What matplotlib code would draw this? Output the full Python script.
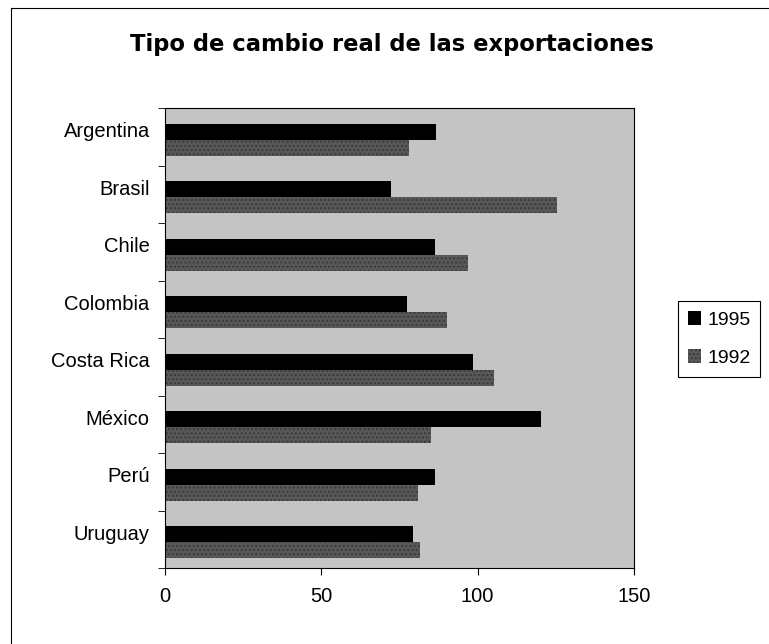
import matplotlib
matplotlib.use("Agg")
import matplotlib.pyplot as plt
from matplotlib.lines import Line2D
from matplotlib.transforms import ScaledTranslation
import numpy as np

plt.rcParams['font.family'] = ['Liberation Sans', 'DejaVu Sans']

# data
paises = ["Argentina", "Brasil", "Chile", "Colombia", "Costa Rica", "México", "Perú", "Uruguay"]
v1995 = [86.7, 72.2, 86.3, 77.3, 98.4, 120.4, 86.3, 79.4]
v1992 = [77.9, 125.3, 97.0, 90.1, 105.3, 85.1, 81.0, 81.7]
xticks = [0, 50, 100, 150]

fig = plt.figure(figsize=(7.69, 6.44), dpi=100)
ax = fig.add_axes([165/769, 1 - 568/644, 469/769, 460/644])

y = np.arange(len(paises))
h = 0.28
off = 0.05  # bar pair sits a little below the slot centre
ax.barh(y + off - h/2, v1995, height=h, color="black", label="1995")
ax.barh(y + off + h/2, v1992, height=h, color="#585858", hatch="....", edgecolor="#3a3a3a",
        linewidth=0, label="1992")

ax.set_facecolor("#c4c4c4")
ax.set_xlim(0, 150)
ax.set_ylim(len(paises) - 0.5, -0.5)
ax.set_xticks(xticks)
ax.set_xticklabels([str(t) for t in xticks], fontsize=14.5)
ax.set_yticks(y)
ax.set_yticklabels(paises, fontsize=14.5)
ax.tick_params(axis="y", length=0, pad=11)
ax.set_yticks(np.arange(len(paises) + 1) - 0.5, minor=True)
ax.tick_params(axis="y", which="minor", length=5, direction="out")
ax.tick_params(axis="x", length=5, direction="out", pad=9)
for lab in ax.get_yticklabels():
    lab.set_transform(lab.get_transform() + ScaledTranslation(0, 5/72, fig.dpi_scale_trans))
for s in ax.spines.values():
    s.set_linewidth(0.8)

fig.text(392/769, 1 - 44/644, "Tipo de cambio real de las exportaciones",
         ha="center", va="center", fontsize=16.3, fontweight="bold",
         family=["DejaVu Sans"])

leg = fig.legend(loc="center", bbox_to_anchor=(719/769, 1 - 339/644), fontsize=14,
                 handlelength=0.7, handleheight=0.7, handletextpad=0.3,
                 labelspacing=1.05, borderpad=0.5, fancybox=False, framealpha=1)
leg.get_frame().set_edgecolor("black")
leg.get_frame().set_linewidth(0.8)

# outer chart border (left and top edges visible)
fig.add_artist(Line2D([11/769, 11/769], [0, 1 - 8/644], color="black", lw=0.8))
fig.add_artist(Line2D([11/769, 1], [1 - 8/644, 1 - 8/644], color="black", lw=0.8))

fig.savefig("out.png", dpi=100)
